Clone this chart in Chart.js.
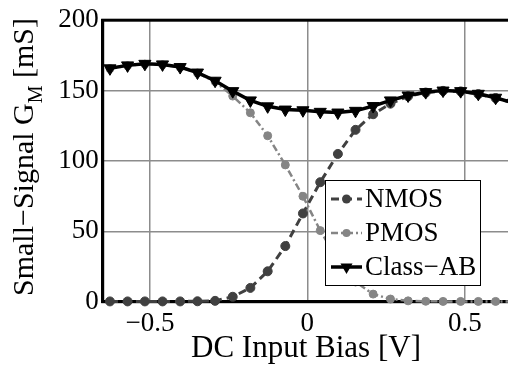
<!DOCTYPE html>
<html>
<head>
<meta charset="utf-8">
<script src="https://cdn.jsdelivr.net/npm/chart.js@4.4.1/dist/chart.umd.min.js"></script>
<style>
html,body{margin:0;padding:0;overflow:hidden;background:#fff;}
#wrap{width:520px;height:368px;}
.pre{font-family:'Liberation Serif';position:absolute;left:-999px;top:-999px;}
</style>
</head>
<body>
<span class="pre">Small Signal 0.5</span>
<div id="wrap"><canvas id="c" width="520" height="368"></canvas></div>
<script>
// ---- data ----
const biasV = [-0.627,-0.571,-0.516,-0.460,-0.404,-0.349,-0.293,-0.237,-0.181,-0.126,-0.070,-0.014,
               0.041,0.097,0.153,0.209,0.264,0.320,0.376,0.431,0.487,0.543,0.598,0.654];
const nmos = [0.2,0.2,0.2,0.2,0.2,0.3,0.6,3.5,9.8,21.6,39.5,62.7,84.9,105.0,122.1,133.2,140.7,146.0,148.6,149.8,149.4,147.5,144.7,141.1];
const pmos = [165.6,167.7,168.8,168.4,166.5,162.5,156.4,146.1,134.2,117.9,97.2,74.9,50.5,29.4,14.0,5.4,1.9,0.6,0.3,0.2,0.2,0.2,0.2,0.2];
const classAB = [165.8,167.9,169.0,168.6,166.7,162.8,157.0,149.6,143.0,138.8,136.5,136.0,134.9,134.4,135.6,139.0,143.0,146.5,148.9,150.0,149.6,147.7,144.9,141.3];
const xTicks = [-0.5, 0, 0.5];
const yTicks = [0, 50, 100, 150, 200];
const seriesNames = ['NMOS', 'PMOS', 'Class\u2212AB'];
const xTitle = 'DC Input Bias [V]';
const yTitleParts = ['Small\u2212Signal G', 'M', ' [mS]'];

const FONT = '"Liberation Serif", "Times New Roman", "DejaVu Serif", serif';
const toXY = (ys) => ys.map((y, i) => ({x: biasV[i], y: y}));
const fmt = (v) => v < 0 ? '\u2212' + String(Math.abs(v)) : String(v);

const styles = [
  {color: '#404040', dash: [8, 5], width: 3, point: 'circle', r: 4.5, rot: 0},
  {color: '#858585', dash: [7, 3, 2, 3], width: 2.5, point: 'circle', r: 4, rot: 0},
  {color: '#000000', dash: [], width: 3.5, point: 'triangle', r: 7, rot: 180}
];
const values = [nmos, pmos, classAB];

function build() {
const datasets = values.map((vals, i) => ({
  label: seriesNames[i],
  data: toXY(vals),
  borderColor: styles[i].color,
  backgroundColor: styles[i].color,
  borderWidth: styles[i].width,
  borderDash: styles[i].dash,
  pointStyle: styles[i].point,
  pointRadius: styles[i].r,
  pointRotation: styles[i].rot,
  pointBorderWidth: 1,
  pointBackgroundColor: styles[i].color,
  pointBorderColor: styles[i].color,
  tension: 0,
  clip: false,
  order: 2 - i
}));

const framePlugin = {
  id: 'frame',
  beforeDatasetsDraw(chart) {
    const {ctx, chartArea: a} = chart;
    ctx.save();
    ctx.strokeStyle = '#000';
    ctx.lineWidth = 3;
    ctx.strokeRect(a.left, a.top, a.right - a.left, a.bottom - a.top);
    ctx.restore();
  },
  afterDraw(chart) {
    const {ctx} = chart;
    ctx.save();
    ctx.fillStyle = '#000';
    ctx.font = '31px ' + FONT;
    ctx.textAlign = 'center';
    ctx.textBaseline = 'alphabetic';
    ctx.fillText(xTitle, 306, 357);
    const big = '30px ' + FONT, small = '20px ' + FONT;
    ctx.font = big; const w0 = ctx.measureText(yTitleParts[0]).width;
    ctx.font = small; const w1 = ctx.measureText(yTitleParts[1]).width;
    ctx.font = big; const w2 = ctx.measureText(yTitleParts[2]).width;
    const total = w0 + w1 + w2;
    ctx.translate(33, 157);
    ctx.rotate(-Math.PI / 2);
    ctx.textAlign = 'left';
    let x = -total / 2;
    ctx.font = big; ctx.fillText(yTitleParts[0], x, 0); x += w0;
    ctx.font = small; ctx.fillText(yTitleParts[1], x, 9); x += w1;
    ctx.font = big; ctx.fillText(yTitleParts[2], x, 0);
    ctx.restore();

    ctx.save();
    const bx = 325, by = 180, bw = 155, bh = 105;
    ctx.fillStyle = '#fff';
    ctx.fillRect(bx, by, bw, bh);
    ctx.strokeStyle = '#000';
    ctx.lineWidth = 1;
    ctx.strokeRect(bx + 0.5, by + 0.5, bw, bh);
    const rows = [199, 233, 267];
    seriesNames.forEach((name, i) => {
      const s = styles[i];
      const y = rows[i];
      ctx.strokeStyle = s.color;
      ctx.lineWidth = s.width;
      ctx.setLineDash(s.dash);
      ctx.beginPath(); ctx.moveTo(331, y); ctx.lineTo(362, y); ctx.stroke();
      ctx.setLineDash([]);
      ctx.fillStyle = s.color;
      const cx = 346.5;
      ctx.beginPath();
      if (s.point === 'circle') {
        ctx.arc(cx, y, s.r, 0, Math.PI * 2);
      } else {
        const r = s.r;
        ctx.moveTo(cx, y + r);
        ctx.lineTo(cx - r * 0.866, y - r * 0.5);
        ctx.lineTo(cx + r * 0.866, y - r * 0.5);
        ctx.closePath();
      }
      ctx.fill();
      ctx.fillStyle = '#000';
      ctx.font = '27px ' + FONT;
      ctx.textAlign = 'left';
      ctx.textBaseline = 'middle';
      ctx.fillText(name, 365, y + 1);
    });
    ctx.restore();
  }
};

new Chart(document.getElementById('c'), {
  type: 'line',
  data: {datasets},
  options: {
    responsive: false,
    animation: false,
    events: [],
    layout: {padding: {top: 15, right: 7, left: 0, bottom: 0}},
    plugins: {legend: {display: false}, tooltip: {enabled: false}},
    scales: {
      x: {
        type: 'linear',
        min: -0.65, max: 0.65,
        afterBuildTicks: (s) => { s.ticks = xTicks.map(v => ({value: v})); },
        afterFit: (s) => { s.height = 66.3; },
        grid: {color: '#8c8c8c', lineWidth: 1.5, drawTicks: false},
        border: {color: '#000', width: 3},
        ticks: {color: '#000', font: {family: FONT, size: 27}, padding: 6,
                maxRotation: 0, autoSkip: false, callback: (v) => fmt(v)}
      },
      y: {
        type: 'linear',
        min: 0, max: 200,
        afterBuildTicks: (s) => { s.ticks = yTicks.map(v => ({value: v})); },
        afterFit: (s) => { s.width = 102.7; },
        grid: {color: '#8c8c8c', lineWidth: 1.5, drawTicks: false},
        border: {color: '#000', width: 3},
        ticks: {color: '#000', font: {family: FONT, size: 27}, padding: 4,
                callback: (v) => fmt(v)}
      }
    }
  },
  plugins: [framePlugin]
});
}

const loads = ['27px "Liberation Serif"', '31px "Liberation Serif"'].map(f => document.fonts.load(f).catch(() => null));
Promise.all(loads).then(build, build);
</script>
</body>
</html>
